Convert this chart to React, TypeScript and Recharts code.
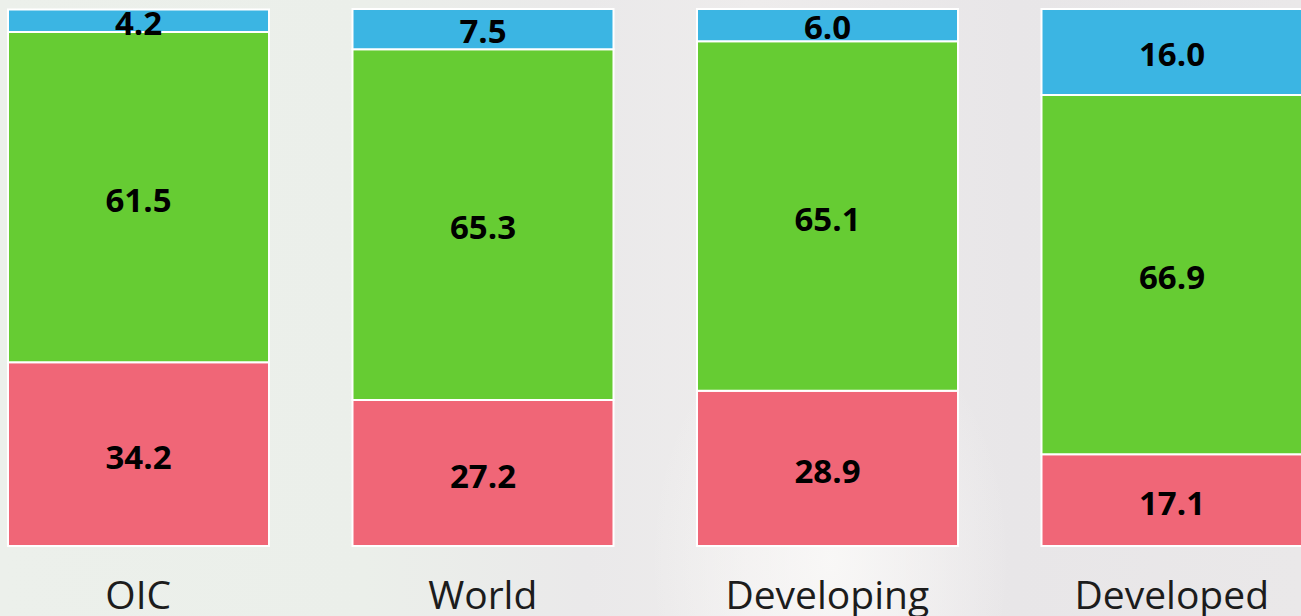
import React from 'react'
import { BarChart, Bar, XAxis, YAxis, LabelList } from 'recharts'

const CATEGORIES = ['OIC', 'World', 'Developing', 'Developed']
const BOTTOM_RED = [34.2, 27.2, 28.9, 17.1]
const MIDDLE_GREEN = [61.5, 65.3, 65.1, 66.9]
const TOP_BLUE = [4.2, 7.5, 6.0, 16.0]

const data = CATEGORIES.map((name, i) => ({
  name,
  red: BOTTOM_RED[i],
  green: MIDDLE_GREEN[i],
  blue: TOP_BLUE[i],
}))

const labelStyle = {
  fill: '#000',
  fontSize: 33,
  fontWeight: 700,
  fontFamily: '"Open Sans", sans-serif',
}

const fmt = (v: any) => Number(v).toFixed(1)

function CategoryTick(props: any) {
  const { x, y, payload } = props
  return (
    <text
      x={x}
      y={y + 55}
      textAnchor="middle"
      fill="#1c1c1c"
      fontSize={39}
      fontFamily='"Open Sans", sans-serif'
    >
      {payload.value}
    </text>
  )
}

export default function App() {
  return (
    <div
      style={{
        position: 'absolute',
        left: 0,
        top: 0,
        width: 1301,
        height: 616,
        overflow: 'hidden',
        background:
          'radial-gradient(ellipse 180px 260px at 830px 560px, rgba(250,249,248,0.9), rgba(250,249,248,0) 100%), linear-gradient(90deg, #ECF0EB 0%, #EBEFEA 28%, #EAE9EA 45%, #EEECEC 58%, #E8E6E8 78%, #EAE8E9 100%)',
      }}
    >
      <div style={{ position: 'absolute', left: -34, top: 0 }}>
        <BarChart
          width={1378}
          height={616}
          data={data}
          margin={{ top: 9, right: 0, left: 0, bottom: 0 }}
          barSize={261}
        >
          <XAxis
            dataKey="name"
            height={70}
            axisLine={false}
            tickLine={false}
            tick={<CategoryTick />}
            interval={0}
          />
          <YAxis hide domain={[0, 100]} />
          <Bar dataKey="red" stackId="a" fill="#F06677" stroke="#fff" strokeWidth={2} isAnimationActive={false}>
            <LabelList dataKey="red" position="center" formatter={fmt} style={labelStyle} dy={3} />
          </Bar>
          <Bar dataKey="green" stackId="a" fill="#66CC33" stroke="#fff" strokeWidth={2} isAnimationActive={false}>
            <LabelList dataKey="green" position="center" formatter={fmt} style={labelStyle} dy={3} />
          </Bar>
          <Bar dataKey="blue" stackId="a" fill="#3BB5E3" stroke="#fff" strokeWidth={2} isAnimationActive={false}>
            <LabelList dataKey="blue" position="center" formatter={fmt} style={labelStyle} dy={2} />
          </Bar>
        </BarChart>
      </div>
    </div>
  )
}
